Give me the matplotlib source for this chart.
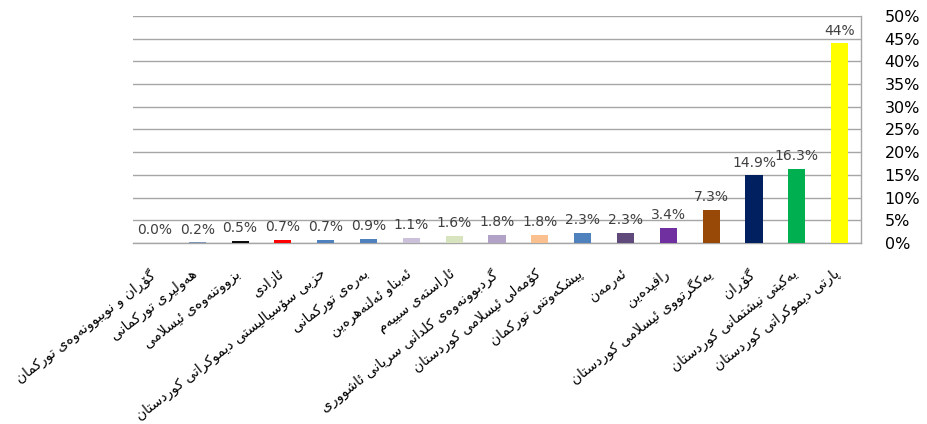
import matplotlib
matplotlib.use('Agg')
import numpy as np
import matplotlib.pyplot as plt
import matplotlib.transforms as mtransforms
from matplotlib import font_manager, ft2font
from matplotlib.ticker import MultipleLocator, FuncFormatter

# --- data ---
parties = [
    'گۆڕان و نوێبوونەوەی تورکمان',
    'هەولێری تورکمانی',
    'بزووتنەوەی ئیسلامی',
    'ئازادی',
    'حزبی سۆسیالیستی دیموکراتی کوردستان',
    'بەرەی تورکمانی',
    'ئەبناو ئەلنەهرەین',
    'ئاراستەی سێیەم',
    'گردبوونەوەی کلدانی سریانی ئاشووری',
    'کۆمەڵی ئیسلامی کوردستان',
    'پێشکەوتنی تورکمان',
    'ئەرمەن',
    'رافیدەین',
    'یەکگرتووی ئیسلامی کوردستان',
    'گۆڕان',
    'یەکێتی نیشتمانی کوردستان',
    'پارتی دیموکراتی کوردستان',
]
shares = [0.0, 0.2, 0.5, 0.7, 0.7, 0.9, 1.1, 1.6, 1.8, 1.8, 2.3, 2.3, 3.4, 7.3, 14.9, 16.3, 44]
value_labels = ['0.0%', '0.2%', '0.5%', '0.7%', '0.7%', '0.9%', '1.1%', '1.6%', '1.8%',
                '1.8%', '2.3%', '2.3%', '3.4%', '7.3%', '14.9%', '16.3%', '44%']
bar_colors = ['#4F81BD', '#7F96B8', '#0D0D0D', '#FF0000', '#4F81BD', '#4F81BD', '#CCC1DA',
              '#D7E4BD', '#B3A2C7', '#FAC090', '#4F81BD', '#604A7B', '#7030A0', '#984807',
              '#002060', '#00B050', '#FFFF00']

# --- minimal Arabic-script shaping (matplotlib draws glyphs without shaping) ---
# forms: isolated, final, initial, medial ; right-joining letters have no initial/medial
FORMS = {
    '\u0627': (0xFE8D, 0xFE8E, None, None),
    '\u0626': (0xFE89, 0xFE8A, 0xFE8B, 0xFE8C),
    '\u0628': (0xFE8F, 0xFE90, 0xFE91, 0xFE92),
    '\u062A': (0xFE95, 0xFE96, 0xFE97, 0xFE98),
    '\u062D': (0xFEA1, 0xFEA2, 0xFEA3, 0xFEA4),
    '\u062F': (0xFEA9, 0xFEAA, None, None),
    '\u0631': (0xFEAD, 0xFEAE, None, None),
    '\u0632': (0xFEAF, 0xFEB0, None, None),
    '\u0633': (0xFEB1, 0xFEB2, 0xFEB3, 0xFEB4),
    '\u0634': (0xFEB5, 0xFEB6, 0xFEB7, 0xFEB8),
    '\u0641': (0xFED1, 0xFED2, 0xFED3, 0xFED4),
    '\u0642': (0xFED5, 0xFED6, 0xFED7, 0xFED8),
    '\u0644': (0xFEDD, 0xFEDE, 0xFEDF, 0xFEE0),
    '\u0645': (0xFEE1, 0xFEE2, 0xFEE3, 0xFEE4),
    '\u0646': (0xFEE5, 0xFEE6, 0xFEE7, 0xFEE8),
    '\u0647': (0xFEE9, 0xFEEA, 0xFEEB, 0xFEEC),
    '\u0648': (0xFEED, 0xFEEE, None, None),
    '\u067E': (0xFB56, 0xFB57, 0xFB58, 0xFB59),
    '\u06A9': (0xFB8E, 0xFB8F, 0xFB90, 0xFB91),
    '\u06AF': (0xFB92, 0xFB93, 0xFB94, 0xFB95),
    '\u06CC': (0xFBFC, 0xFBFD, 0xFBFE, 0xFBFF),
    '\u06C6': (0xFBD9, 0xFBDA, None, None),
    '\u06D5': (0x06D5, 0xFEEA, None, None),
    '\u0695': (0x0695, 0xFEAE, None, None),
}
# Kurdish letters without presentation forms borrow the base letter's forms
BORROW = {'\u06CE': '\u06CC', '\u06B5': '\u0644'}

_font = ft2font.FT2Font(font_manager.findfont('DejaVu Sans'))


def _glyph(cp, fallback):
    return chr(cp) if cp and _font.get_char_index(cp) != 0 else fallback


def _forms(c):
    return FORMS.get(BORROW.get(c, c))


def _dual(c):
    f = _forms(c)
    return f is not None and f[2] is not None


def shape(text):
    out = []
    i = 0
    n = len(text)
    while i < n:
        c = text[i]
        f = _forms(c)
        if f is None:
            out.append(c)
            i += 1
            continue
        prev = text[i - 1] if i > 0 else None
        joined_prev = prev is not None and _dual(prev)
        if c in ('\u0644', '\u06B5') and i + 1 < n and text[i + 1] == '\u0627':
            out.append(_glyph(0xFEFC if joined_prev else 0xFEFB, 'لا'))
            i += 2
            continue
        nxt = text[i + 1] if i + 1 < n else None
        joined_next = _dual(c) and nxt is not None and _forms(nxt) is not None
        if joined_prev and joined_next:
            cp = f[3]
        elif joined_next:
            cp = f[2]
        elif joined_prev:
            cp = f[1]
        else:
            cp = f[0]
        out.append(_glyph(cp, c))
        i += 1
    return ''.join(out)[::-1]


plt.rcParams['font.family'] = ['DejaVu Sans']

fig = plt.figure(figsize=(9.27, 4.24), dpi=100)
ax = fig.add_axes([0.1435, 0.4269, 0.9288 - 0.1435, 0.9623 - 0.4269])

x = np.arange(len(parties))
ax.bar(x, shares, width=0.4, color=bar_colors, zorder=3)

for xi, v, lbl in zip(x, shares, value_labels):
    ax.annotate(lbl, (xi, v), xytext=(0, 4), textcoords='offset points',
                ha='center', va='bottom', fontsize=10, color='#404040', zorder=4)

ax.set_xlim(-0.5, len(parties) - 0.5)
ax.set_ylim(0, 50)
ax.yaxis.tick_right()
ax.yaxis.set_major_locator(MultipleLocator(5))
ax.yaxis.set_major_formatter(FuncFormatter(lambda v, _: f'{v:.0f}%'))
ax.tick_params(axis='y', length=0, pad=17, labelsize=11.5, labelcolor='#000000')
ax.yaxis.grid(True, color='#A6A6A6', linewidth=1, zorder=0)

ax.set_xticks(x)
ax.set_xticklabels([shape(p) for p in parties], rotation=38, ha='right',
                   va='top', rotation_mode='anchor', fontsize=10)
ax.tick_params(axis='x', length=0, pad=17)
shift = mtransforms.ScaledTranslation(-4 / 72, 0, fig.dpi_scale_trans)
for lab in ax.get_xticklabels():
    lab.set_transform(lab.get_transform() + shift)

for side in ('left', 'top'):
    ax.spines[side].set_visible(False)
for side in ('right', 'bottom'):
    ax.spines[side].set_color('#A6A6A6')
    ax.spines[side].set_linewidth(1)

fig.savefig('out.png', dpi=100)
